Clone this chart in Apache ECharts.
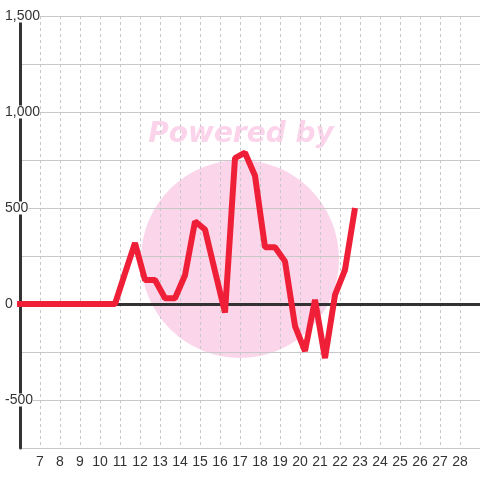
<!DOCTYPE html>
<html>
<head>
<meta charset="utf-8">
<script src="https://cdn.jsdelivr.net/npm/echarts@6/dist/echarts.min.js"></script>
<style>
  html, body { margin: 0; padding: 0; background: #fff; }
  #chart { width: 480px; height: 480px; }
</style>
</head>
<body>
<div id="chart"></div>
<script>
// x positions of the samples (value axis)
const xValues = [5.75, 6.25, 6.75, 7.25, 7.75, 8.25, 8.75, 9.25, 9.75, 10.25, 10.75,
  11.25, 11.75, 12.25, 12.75, 13.25, 13.75, 14.25, 14.75, 15.25, 15.75, 16.25,
  16.75, 17.25, 17.75, 18.25, 18.75, 19.25, 19.75, 20.25, 20.75, 21.25, 21.75,
  22.25, 22.75];
// series values
const yValues = [0, 0, 0, 0, 0, 0, 0, 0, 0, 0, 0,
  160, 318, 125, 125, 30, 30, 150, 430, 388, 170, -45,
  760, 788, 668, 295, 295, 222, -115, -245, 22, -282, 47,
  178, 500];

const xMin = 6, xMax = 29;
const yMin = -750, yMax = 1500, yStep = 250, yLabelStep = 500;

const chart = echarts.init(document.getElementById("chart"));

const seriesData = xValues.map((x, i) => [x, yValues[i]]);

const option = {
  animation: false,
  backgroundColor: "#fff",
  grid: { left: 20, right: 0, top: 16, bottom: 32, containLabel: false },
  graphic: [
    {
      type: "circle",
      z: -1,
      shape: { cx: 240, cy: 259, r: 99 },
      style: { fill: "#fbd6eb" },
      silent: true
    },
    {
      type: "text",
      z: -1,
      x: 241,
      y: 135,
      silent: true,
      style: {
        text: "Powered by",
        fill: "#fbd3ea",
        font: "italic bold 28px 'DejaVu Sans'",
        align: "center",
        verticalAlign: "middle"
      }
    }
  ],
  xAxis: {
    type: "value",
    min: xMin,
    max: xMax,
    interval: 1,
    axisLine: { show: false },
    axisTick: { show: false },
    axisLabel: {
      showMinLabel: false,
      showMaxLabel: false,
      color: "#333",
      fontSize: 14,
      fontFamily: "Liberation Sans",
      margin: 7
    },
    splitLine: {
      show: true,
      showMinLine: false,
      showMaxLine: false,
      lineStyle: { color: "#c8c8c8", type: [3, 3], width: 1 }
    }
  },
  yAxis: {
    type: "value",
    min: yMin,
    max: yMax,
    interval: yStep,
    axisLine: { show: true, lineStyle: { color: "#333", width: 3 } },
    axisTick: { show: false },
    axisLabel: {
      color: "#333",
      fontSize: 14,
      fontFamily: "Liberation Sans",
      align: "left",
      margin: 15,
      backgroundColor: "#fff",
      lineHeight: 13,
      formatter: (v) =>
        v % yLabelStep === 0 && v > yMin ? v.toLocaleString("en-US") : ""
    },
    splitLine: { show: true, lineStyle: { color: "#c8c8c8", width: 1 } }
  },
  series: [
    {
      type: "line",
      data: seriesData,
      showSymbol: false,
      clip: true,
      z: 3,
      lineStyle: { color: "#ee1f36", width: 6 },
      markLine: {
        silent: true,
        symbol: "none",
        z: 1,
        label: { show: false },
        lineStyle: { color: "#333", width: 3, type: "solid" },
        data: [{ yAxis: 0 }]
      }
    }
  ]
};

chart.setOption(option);
</script>
</body>
</html>
